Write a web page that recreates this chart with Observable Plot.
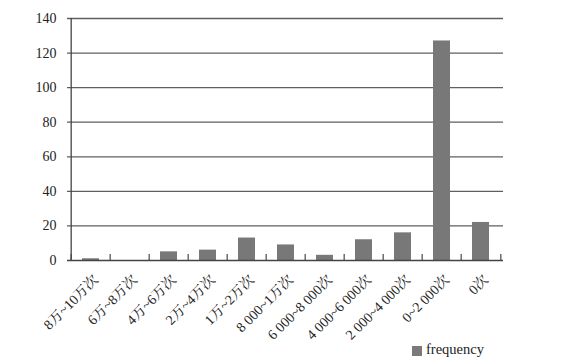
<!DOCTYPE html>
<html>
<head>
<meta charset="utf-8">
<script src="https://cdn.jsdelivr.net/npm/d3@7"></script>
<script src="https://cdn.jsdelivr.net/npm/@observablehq/plot@0.6"></script>
<style>
  html, body { margin: 0; padding: 0; background: #fff; }
  #chart { width: 561px; }
  #chart svg { display: block; }
  .legend { position: relative; height: 20px; margin-top: -8px; font-family: "Liberation Serif", "Noto Serif CJK SC", serif; font-size: 14.5px; color: #222; }
  .legend .sw { position: absolute; left: 412px; top: 4px; width: 10px; height: 10px; background: #7a7a7a; }
  .legend .lb { position: absolute; left: 426px; top: -1px; }
</style>
</head>
<body>
<div id="chart"></div>
<script>
const categories = ["8万~10万次", "6万~8万次", "4万~6万次", "2万~4万次", "1万~2万次", "8 000~1万次", "6 000~8 000次", "4 000~6 000次", "2 000~4 000次", "0~2 000次", "0次"];
const frequency = [1, 0, 5, 6, 13, 9, 3, 12, 16, 127, 22];
const yTicks = [0, 20, 40, 60, 80, 100, 120, 140];
const seriesName = "frequency";

const data = categories.map((c, i) => ({category: c, value: frequency[i]}));

const W = 561, H = 350, mL = 67, mR = 58, mT = 18, mB = 90;
const step = (W - mL - mR) / categories.length;
const font = '"Liberation Serif", "Noto Serif CJK SC", "Noto Sans CJK SC", serif';

const chart = Plot.plot({
  width: W,
  height: H,
  marginLeft: mL,
  marginRight: mR,
  marginTop: mT,
  marginBottom: mB,
  style: {fontFamily: font, color: "#222", background: "transparent"},
  x: {domain: categories, paddingInner: 0.57, paddingOuter: 0.285, label: null},
  y: {domain: [0, 140], label: null},
  marks: [
    Plot.ruleY(yTicks.filter(d => d > 0), {stroke: "#5f5f5f", strokeWidth: 1.3}),
    Plot.barY(data, {x: "category", y: "value", fill: "#787878"}),
    Plot.ruleX(categories, {x: d => d, dx: -step / 2, y1: 0, y2: 3.5, stroke: "#555", strokeWidth: 1.3}),
    Plot.ruleX(categories.slice(-1), {x: d => d, dx: step / 2, y1: 0, y2: 3.5, stroke: "#555", strokeWidth: 1.3}),
    Plot.axisY({ticks: yTicks, tickSize: 0, tickPadding: 11, fontSize: 14, label: null}),
    Plot.axisX({tickSize: 0, tickRotate: -45, fontSize: 14, tickPadding: 17, dx: 5, label: null}),
    Plot.ruleY([0], {stroke: "#444", strokeWidth: 1.3}),
    Plot.ruleX([categories[0]], {x: d => d, dx: -step / 2, y1: 0, y2: 140, stroke: "#444", strokeWidth: 1.3})
  ]
});

document.getElementById("chart").appendChild(chart);
const legend = document.createElement("div");
legend.className = "legend";
legend.innerHTML = '<span class="sw"></span><span class="lb"></span>';
legend.querySelector(".lb").textContent = seriesName;
document.getElementById("chart").appendChild(legend);
</script>
</body>
</html>
